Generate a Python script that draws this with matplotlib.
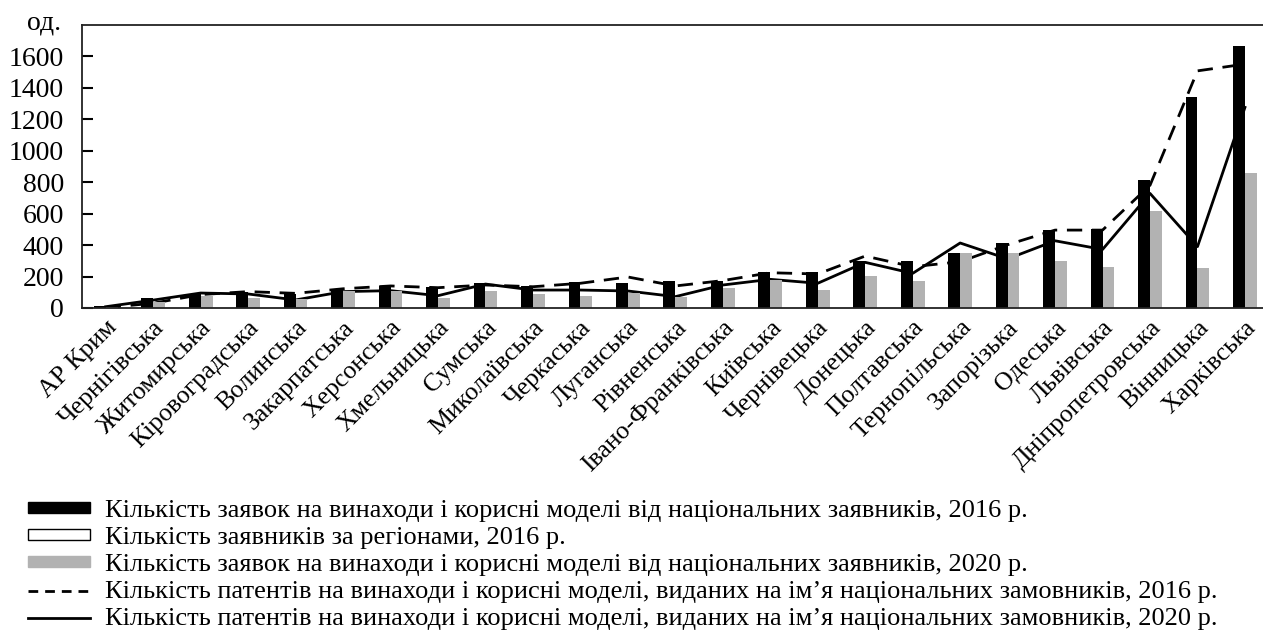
import matplotlib
matplotlib.use("Agg")
import matplotlib.pyplot as plt
import numpy as np
from matplotlib.patches import Patch
from matplotlib.lines import Line2D

plt.rcParams['font.family'] = ['Liberation Serif', 'DejaVu Serif']

regions = ["АР Крим", "Чернігівська", "Житомирська", "Кіровоградська", "Волинська",
           "Закарпатська", "Херсонська", "Хмельницька", "Сумська", "Миколаївська",
           "Черкаська", "Луганська", "Рівненська", "Івано-Франківська", "Київська",
           "Чернівецька", "Донецька", "Полтавська", "Тернопільська", "Запорізька",
           "Одеська", "Львівська", "Дніпропетровська", "Вінницька", "Харківська"]

# заявки 2016 (чорні), заявки 2020 (сірі)
apps_2016 = [10, 62, 87, 100, 91, 120, 142, 135, 157, 142, 163, 161, 171, 174, 231,
             231, 300, 298, 351, 416, 495, 504, 813, 1342, 1665]
apps_2020 = [4, 38, 76, 65, 57, 108, 110, 65, 106, 87, 76, 93, 68, 125, 178,
             114, 203, 171, 347, 347, 298, 262, 618, 252, 861]
# патенти 2016 (пунктир), 2020 (суцільна)
pat_2016 = [2, 30, 85, 104, 93, 122, 140, 129, 146, 135, 157, 197, 140, 174, 224,
            216, 330, 262, 294, 402, 495, 495, 780, 1507, 1550]
pat_2020 = [8, 50, 95, 89, 51, 104, 110, 78, 152, 114, 114, 108, 72, 146, 182,
            157, 290, 220, 413, 312, 427, 372, 728, 390, 1275]

labels = ["Кількість заявок на винаходи і корисні моделі від національних заявників, 2016 р.",
          "Кількість заявників за регіонами, 2016 р.",
          "Кількість заявок на винаходи і корисні моделі від національних заявників, 2020 р.",
          "Кількість патентів на винаходи і корисні моделі, виданих на ім’я національних замовників, 2016 р.",
          "Кількість патентів на винаходи і корисні моделі, виданих на ім’я національних замовників, 2020 р."]

x = np.arange(len(regions))
w = 0.25
gray = '#b2b2b2'

fig = plt.figure(figsize=(12.63, 6.35), dpi=100)
ax = fig.add_axes([0.0649, 0.515, 0.9351, 0.446])

ax.plot(x, pat_2016, color='k', lw=2.0, ls=(0, (5.5, 3.5)), zorder=1)
ax.plot(x, pat_2020, color='k', lw=2.0, zorder=1)
ax.bar(x - w / 2, apps_2016, width=w, color='k', zorder=2)
ax.bar(x + w / 2, apps_2020, width=w, color=gray, zorder=2)

ax.set_xlim(-0.5, 24.38)
ax.set_ylim(0, 1800)
ax.set_yticks(range(0, 1601, 200))
ax.tick_params(axis='y', direction='in', length=8, width=1.5, labelsize=20, pad=13)
ax.tick_params(axis='x', length=0, labelsize=18.5, pad=6)
ax.set_xticks(x)
ax.set_xticklabels(regions, rotation=45, ha='right', rotation_mode='anchor')
ax.spines['right'].set_visible(False)
for s in ['left', 'top', 'bottom']:
    ax.spines[s].set_linewidth(1.3)
    ax.spines[s].set_color('#222222')

fig.text(0.0214, 0.953, "од.", fontsize=20, va='baseline')

handles = [Patch(facecolor='k', edgecolor='k'),
           Patch(facecolor='white', edgecolor='k', linewidth=1.0),
           Patch(facecolor=gray, edgecolor=gray),
           Line2D([], [], color='k', lw=2.0, ls=(0, (3.5, 2.5))),
           Line2D([], [], color='k', lw=2.0)]
fig.legend(handles, labels, loc='upper left', bbox_to_anchor=(0.022, 0.212),
           frameon=False, fontsize=19, handlelength=2.35, handleheight=0.27,
           handletextpad=0.57, labelspacing=0.19, borderpad=0, borderaxespad=0)

fig.savefig("out.png", dpi=100)
